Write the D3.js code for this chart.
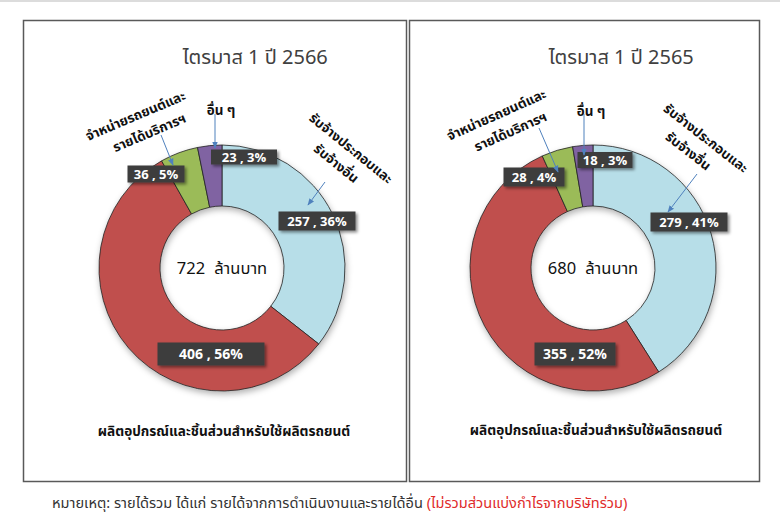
<!DOCTYPE html>
<html>
<head>
<meta charset="utf-8">
<script src="https://cdn.jsdelivr.net/npm/d3@7/dist/d3.min.js"></script>
<style>
  body { margin: 0; background: #fff; }
  text { font-family: Tahoma, "Noto Sans Thai", "Noto Sans", sans-serif; }
</style>
</head>
<body>
<div id="chart"></div>
<script>
// data
var categories = ["รับจ้างประกอบและรับจ้างอื่น", "ผลิตอุปกรณ์และชิ้นส่วนสำหรับใช้ผลิตรถยนต์", "จำหน่ายรถยนต์และรายได้บริการฯ", "อื่น ๆ"];
var categoryLines = [["รับจ้างประกอบและ", "รับจ้างอื่น"], ["ผลิตอุปกรณ์และชิ้นส่วนสำหรับใช้ผลิตรถยนต์"], ["จำหน่ายรถยนต์และ", "รายได้บริการฯ"], ["อื่น ๆ"]];
var quarterTitles = ["ไตรมาส 1 ปี 2566", "ไตรมาส 1 ปี 2565"];
var totals = [722, 680];
var values2566 = [257, 406, 36, 23];
var values2565 = [279, 355, 28, 18];
var shares2566 = [36, 56, 5, 3];
var shares2565 = [41, 52, 4, 3];
var colors = ["#B7DEE8", "#C0504D", "#9BBB59", "#8064A2"];
var unitText = "ล้านบาท";
var noteText = "หมายเหตุ: รายได้รวม ได้แก่ รายได้จากการดำเนินงานและรายได้อื่น ";
var noteRed = "(ไม่รวมส่วนแบ่งกำไรจากบริษัทร่วม)";

// layout (not data)
var W = 780, H = 525;
var panels = [
    {x: 23.5, y: 20.5, w: 383, h: 461, cx: 222, cy: 268,
     values: values2566, shares: shares2566, total: totals[0], title: quarterTitles[0],
     boxes: [[95, -47, 77, 19], [-11, 86, 107, 23], [-66, -94, 57, 17], [22, -111, 66, 15]],
     labels: [
        {x: 344, y: 157, rot: 39, dx2: -2, arrow: [[325, 182], [308, 205]]},
        {x: 224, y: 432, rot: 0},
        {x: 140, y: 126, rot: -23, dx2: 6, arrow: [[161, 135], [173, 165]]},
        {x: 221, y: 111, rot: 0, arrow: [[215, 114], [215, 148]]}
     ]},
    {x: 409.5, y: 20.5, w: 350, h: 461, cx: 593, cy: 268,
     values: values2565, shares: shares2565, total: totals[1], title: quarterTitles[1],
     boxes: [[96, -46, 77, 19], [-18, 86, 81, 23], [-59, -91, 61, 19], [12, -108, 55, 16]],
     labels: [
        {x: 699, y: 147, rot: 38, dx2: -6, arrow: [[697, 174], [668, 212]]},
        {x: 596, y: 431, rot: 0},
        {x: 501, y: 125, rot: -24, dx2: 6, arrow: [[539, 128], [558, 172]]},
        {x: 591, y: 112, rot: 0, arrow: [[584, 114], [584, 155]]}
     ]}
];

var svg = d3.select("#chart").append("svg")
    .attr("width", W)
    .attr("height", H);

var defs = svg.append("defs");
defs.append("filter").attr("id", "ringShadow")
    .attr("x", "-20%").attr("y", "-20%").attr("width", "140%").attr("height", "140%")
    .append("feDropShadow")
    .attr("dx", 1).attr("dy", 3).attr("stdDeviation", 3)
    .attr("flood-color", "#000").attr("flood-opacity", 0.3);
defs.append("filter").attr("id", "boxShadow")
    .attr("x", "-20%").attr("y", "-30%").attr("width", "140%").attr("height", "170%")
    .append("feDropShadow")
    .attr("dx", 2).attr("dy", 2).attr("stdDeviation", 1.5)
    .attr("flood-color", "#000").attr("flood-opacity", 0.45);
defs.append("marker").attr("id", "arrowHead")
    .attr("viewBox", "0 0 10 10")
    .attr("refX", 9).attr("refY", 5)
    .attr("markerWidth", 7).attr("markerHeight", 7)
    .attr("orient", "auto")
    .append("path")
    .attr("d", "M0,1 L10,5 L0,9 z")
    .attr("fill", "#4F81BD");

// thin grey rule at the very top
svg.append("rect")
    .attr("x", 0).attr("y", 0)
    .attr("width", W).attr("height", 2)
    .attr("fill", "#dcdcdc");

var color = d3.scaleOrdinal().domain(categories).range(colors);
var pie = d3.pie().sort(null).value(function(d) { return d.value; });
var arc = d3.arc().innerRadius(62).outerRadius(123);

panels.forEach(function(p) {
    svg.append("rect")
        .attr("x", p.x).attr("y", p.y)
        .attr("width", p.w).attr("height", p.h)
        .attr("fill", "#fff")
        .attr("stroke", "#595959")
        .attr("stroke-width", 1.5);

    svg.append("text")
        .attr("x", p.x + p.w * 0.605)
        .attr("y", 64)
        .attr("text-anchor", "middle")
        .attr("font-size", 20)
        .attr("fill", "#404040")
        .text(p.title);

    var rows = categories.map(function(c, i) {
        return {cat: c, value: p.values[i], share: p.shares[i], i: i};
    });

    var g = svg.append("g")
        .attr("transform", "translate(" + p.cx + "," + p.cy + ")");

    g.append("g")
        .attr("filter", "url(#ringShadow)")
        .selectAll("path")
        .data(pie(rows))
        .join("path")
        .attr("d", arc)
        .attr("fill", function(d) { return color(d.data.cat); })
        .attr("stroke", "#222")
        .attr("stroke-width", 0.8);

    var ct = g.append("text")
        .attr("y", 6)
        .attr("text-anchor", "middle")
        .attr("font-size", 16.5)
        .attr("fill", "#111");
    ct.append("tspan").text(p.total);
    ct.append("tspan").attr("dx", 9).text(unitText);

    // category names and their arrows
    rows.forEach(function(r) {
        var L = p.labels[r.i];
        var lg = svg.append("g")
            .attr("transform", "translate(" + L.x + "," + L.y + ") rotate(" + L.rot + ")");
        var lines = categoryLines[r.i];
        lines.forEach(function(line, k) {
            lg.append("text")
                .attr("x", k > 0 ? (L.dx2 || 0) : 0)
                .attr("y", (k - (lines.length - 1) / 2) * 21 + 4)
                .attr("text-anchor", "middle")
                .attr("font-size", r.i === 1 ? 13.6 : 13.4)
                .attr("font-weight", "bold")
                .attr("fill", "#111")
                .text(line);
        });
        if (L.arrow) {
            svg.append("line")
                .attr("x1", L.arrow[0][0]).attr("y1", L.arrow[0][1])
                .attr("x2", L.arrow[1][0]).attr("y2", L.arrow[1][1])
                .attr("stroke", "#4F81BD")
                .attr("stroke-width", 1)
                .attr("marker-end", "url(#arrowHead)");
        }
    });

    // value boxes
    rows.forEach(function(r) {
        var b = p.boxes[r.i];
        var big = r.i === 1;
        var bg = g.append("g")
            .attr("transform", "translate(" + b[0] + "," + b[1] + ")");
        bg.append("rect")
            .attr("x", -b[2] / 2).attr("y", -b[3] / 2)
            .attr("width", b[2]).attr("height", b[3])
            .attr("fill", "#3d3d3d")
            .attr("filter", "url(#boxShadow)");
        bg.append("text")
            .attr("y", big ? 5 : 4.5)
            .attr("text-anchor", "middle")
            .attr("font-family", "'Open Sans', 'Liberation Sans', sans-serif")
            .attr("font-size", big ? 14 : 13)
            .attr("font-weight", "bold")
            .attr("fill", "#fff")
            .text(r.value + " , " + r.share + "%");
    });
});

// footnote
var note = svg.append("text")
    .attr("x", 52).attr("y", 508)
    .attr("font-size", 14.6)
    .attr("fill", "#333");
note.append("tspan").text(noteText);
note.append("tspan").attr("fill", "#E02B2B").text(noteRed);
</script>
</body>
</html>
